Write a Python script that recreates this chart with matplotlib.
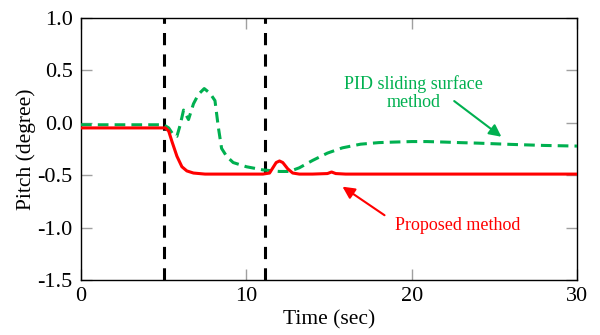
import matplotlib
matplotlib.use("Agg")
import matplotlib.pyplot as plt
import numpy as np

plt.rcParams['font.family'] = ['Liberation Serif', 'DejaVu Serif']

# Proposed method (red)
t_prop = [0, 5.1, 5.3, 5.5, 5.8, 6.1, 6.4, 6.8, 7.5, 9, 11, 11.4, 11.6, 11.8, 12.0, 12.2, 12.5, 12.8, 13.2, 14, 14.9, 15.15, 15.4, 16, 20, 25, 30]
y_prop = [-0.05, -0.05, -0.08, -0.18, -0.32, -0.42, -0.46, -0.48, -0.49, -0.49, -0.49, -0.48, -0.43, -0.38, -0.365, -0.38, -0.44, -0.48, -0.49, -0.49, -0.485, -0.47, -0.485, -0.49, -0.49, -0.49, -0.49]

# PID sliding surface method (green)
t_pid = [0, 5.0, 5.3, 5.6, 5.8, 6.0, 6.2, 6.5, 6.8, 7.1, 7.45, 7.8, 8.1, 8.3, 8.5, 8.8, 9.2, 10, 11, 12, 12.6, 13.2, 14, 14.9, 15.8, 16.9, 18, 18.9, 20, 20.9, 22, 22.9, 24, 26, 28, 30]
y_pid = [-0.02, -0.02, -0.05, -0.12, -0.13, -0.02, 0.12, 0.03, 0.18, 0.27, 0.325, 0.28, 0.21, -0.04, -0.245, -0.32, -0.38, -0.42, -0.45, -0.465, -0.465, -0.43, -0.36, -0.29, -0.24, -0.205, -0.19, -0.185, -0.18, -0.18, -0.185, -0.19, -0.195, -0.207, -0.217, -0.223]

vlines_x = [5.0, 11.1]

xticks = [0, 10, 20, 30]
yticks = [-1.5, -1.0, -0.5, 0.0, 0.5, 1.0]

fig = plt.figure(figsize=(6, 3.35), dpi=100)
ax = fig.add_axes([0.135, 0.164, 0.827, 0.783])

green = '#00B050'
for xv in vlines_x:
    ax.axvline(xv, color='black', lw=2.2, ls=(0, (4, 3)), zorder=3)
ax.plot(t_pid, y_pid, color=green, lw=2.2, ls=(0, (3.5, 2)), zorder=4)
ax.plot(t_prop, y_prop, color='#FF0000', lw=2.2, zorder=5)

ax.set_xlim(0, 30)
ax.set_ylim(-1.5, 1.0)
ax.set_xticks(xticks)
ax.set_xticklabels([str(v) for v in xticks])
ax.set_yticks(yticks)
ax.set_yticklabels([f"{v:.1f}" for v in yticks])
ax.tick_params(direction='in', length=8, width=1, color='#A0A0A0', labelsize=16,
               top=True, right=True)
ax.tick_params(axis='y', pad=6)
ax.tick_params(axis='x', pad=5)
for s in ax.spines.values():
    s.set_linewidth(1.0)
ax.set_xlabel('Time (sec)', fontsize=15.5, labelpad=3)
ax.set_ylabel('Pitch (degree)', fontsize=15.5, labelpad=1)

ax.annotate('', xy=(25.55, -0.15), xytext=(22.43, 0.222),
            arrowprops=dict(arrowstyle='-|>', color=green, lw=1.5, mutation_scale=18))
ax.text(20.1, 0.28, 'PID sliding surface\nmethod', color=green, fontsize=13,
        ha='center', va='center', linespacing=1.1)
ax.annotate('', xy=(15.67, -0.595), xytext=(18.49, -0.897),
            arrowprops=dict(arrowstyle='-|>', color='#FF0000', lw=1.5, mutation_scale=18))
ax.text(22.75, -0.976, 'Proposed method', color='#FF0000', fontsize=13,
        ha='center', va='center')

fig.savefig('out.png', dpi=100)
